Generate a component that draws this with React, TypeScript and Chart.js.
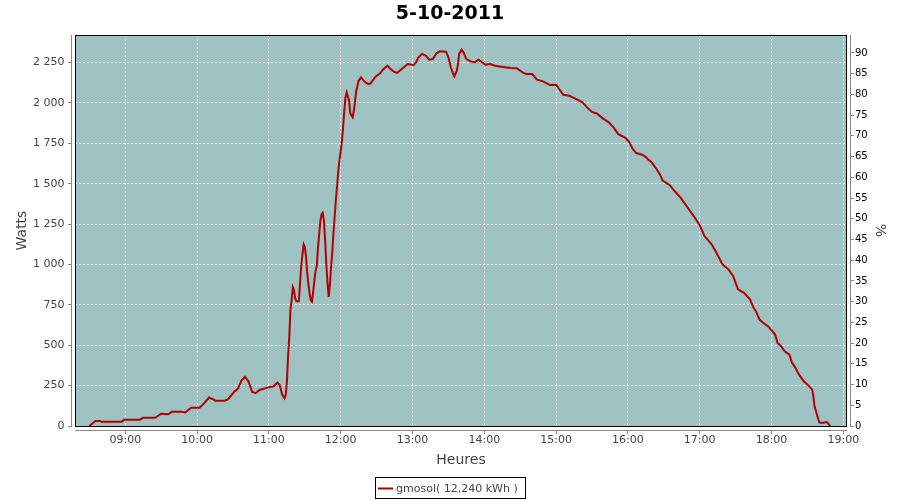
import React, { useEffect, useRef } from "react";
import { Chart, registerables } from "chart.js";

Chart.register(...registerables);

const chartTitle = "5-10-2011";
const seriesLabel = "gmosol( 12,240 kWh )";
const xTitle = "Heures";
const yTitle = "Watts";
const y2Title = "%";

const times = [
  "08:30", "08:35", "08:39", "08:40", "08:57", "08:59", "09:12", "09:15", "09:25", "09:30",
  "09:36", "09:39", "09:47", "09:50", "09:55", "10:02", "10:05", "10:10", "10:14", "10:15",
  "10:23", "10:26", "10:31", "10:34", "10:37", "10:40", "10:43", "10:46", "10:49", "10:52",
  "10:58", "11:04", "11:07", "11:09", "11:11", "11:13", "11:14", "11:15", "11:16", "11:17",
  "11:18", "11:19", "11:20", "11:21", "11:22", "11:23", "11:25", "11:26", "11:27", "11:28",
  "11:29", "11:30", "11:31", "11:32", "11:33", "11:34", "11:35", "11:36", "11:37", "11:38",
  "11:39", "11:40", "11:41", "11:42", "11:43", "11:44", "11:45", "11:46", "11:47", "11:48",
  "11:49", "11:50", "11:51", "11:52", "11:53", "11:54", "11:55", "11:56", "11:57", "11:58",
  "11:59", "12:00", "12:01", "12:02", "12:03", "12:04", "12:05", "12:07", "12:08", "12:10",
  "12:11", "12:13", "12:15", "12:17", "12:20", "12:23", "12:25", "12:29", "12:33", "12:35",
  "12:39", "12:41", "12:44", "12:47", "12:50", "12:55", "12:56", "13:01", "13:03", "13:05",
  "13:08", "13:11", "13:14", "13:17", "13:20", "13:23", "13:28", "13:30", "13:32", "13:34",
  "13:35", "13:37", "13:38", "13:39", "13:41", "13:43", "13:45", "13:49", "13:52", "13:55",
  "14:01", "14:05", "14:09", "14:14", "14:22", "14:27", "14:32", "14:35", "14:40", "14:44",
  "14:49", "14:55", "15:00", "15:03", "15:06", "15:11", "15:17", "15:22", "15:26", "15:30",
  "15:34", "15:39", "15:44", "15:48", "15:52", "15:58", "16:01", "16:04", "16:07", "16:12",
  "16:15", "16:17", "16:19", "16:21", "16:24", "16:27", "16:29", "16:35", "16:39", "16:44",
  "16:49", "16:55", "17:00", "17:04", "17:10", "17:14", "17:19", "17:24", "17:28", "17:32",
  "17:37", "17:42", "17:45", "17:47", "17:50", "17:53", "17:57", "18:00", "18:03", "18:05",
  "18:08", "18:11", "18:15", "18:17", "18:20", "18:23", "18:27", "18:31", "18:34", "18:35",
  "18:36", "18:38", "18:40", "18:42", "18:44", "18:46", "18:47", "18:49",
];

const watts = [
  0, 31, 31, 27, 27, 39, 39, 51, 51, 76,
  73, 89, 89, 84, 113, 113, 134, 176, 163, 157,
  157, 166, 212, 230, 280, 305, 275, 211, 203, 223,
  236, 246, 268, 255, 196, 172, 190, 267, 430, 546,
  721, 780, 860, 840, 790, 773, 773, 880, 990, 1060,
  1125, 1110, 1050, 950, 880, 820, 780, 770, 830, 900,
  960, 990, 1100, 1187, 1270, 1310, 1320, 1269, 1150, 1000,
  880, 800, 880, 990, 1080, 1200, 1300, 1404, 1490, 1580,
  1650, 1700, 1760, 1850, 1952, 2035, 2066, 2014, 1935, 1911,
  1952, 2076, 2138, 2159, 2131, 2117, 2122, 2163, 2184, 2204,
  2231, 2215, 2196, 2186, 2204, 2235, 2241, 2235, 2252, 2283,
  2304, 2293, 2268, 2272, 2308, 2320, 2318, 2283, 2221, 2180,
  2165, 2200, 2241, 2304, 2330, 2308, 2272, 2256, 2252, 2268,
  2237, 2241, 2231, 2225, 2216, 2215, 2190, 2179, 2179, 2144,
  2134, 2111, 2113, 2082, 2051, 2045, 2024, 2004, 1973, 1945,
  1935, 1905, 1880, 1849, 1807, 1784, 1760, 1715, 1690, 1680,
  1665, 1650, 1638, 1621, 1590, 1555, 1520, 1491, 1455, 1414,
  1362, 1300, 1243, 1176, 1125, 1073, 1001, 970, 928, 846,
  825, 784, 732, 711, 659, 639, 618, 593, 566, 515,
  494, 463, 442, 395, 360, 318, 277, 250, 225, 184,
  122, 70, 22, 19, 22, 25, 19, 0,
];

// axis ranges (hours of day, watts, percent)
const xMin = 8.2994;
const xMax = 19.0515;
const wattMax = 2421;
const pctMax = 94.34;
const wattStep = 250;
const pctStep = 5;
const hourStep = 1;

const toHours = (t: string) => {
  const [h, m] = t.split(":").map(Number);
  return h + m / 60;
};

const fmtWatts = (v: number) => {
  if (v >= 1000) {
    const th = Math.floor(v / 1000);
    const rest = String(Math.round(v % 1000)).padStart(3, "0");
    return `${th} ${rest}`;
  }
  return String(v);
};

const fmtHour = (v: number) => `${String(Math.round(v)).padStart(2, "0")}:00`;

const FONT = "'DejaVu Sans', sans-serif";
const PLOT_BG = "#9ec3c2";
const LINE = "#b40000";
const AXIS_GRAY = "#888888";

export default function App() {
  const ref = useRef<HTMLCanvasElement | null>(null);

  useEffect(() => {
    if (!ref.current) return;
    const align = (p: number) => Math.round(p - 0.5) + 0.5;

    const framePlugin = {
      id: "frame",
      beforeDraw(chart: any) {
        const { ctx, chartArea } = chart;
        ctx.save();
        ctx.fillStyle = "#ffffff";
        ctx.fillRect(0, 0, chart.width, chart.height);
        ctx.fillStyle = PLOT_BG;
        ctx.fillRect(chartArea.left, chartArea.top, chartArea.right - chartArea.left, chartArea.bottom - chartArea.top);
        ctx.restore();
      },
      afterDraw(chart: any) {
        const { ctx, chartArea, scales } = chart;
        const { left, top, right, bottom } = chartArea;
        ctx.save();
        // plot outline
        ctx.strokeStyle = "#000000";
        ctx.lineWidth = 1;
        ctx.strokeRect(left + 0.5, top + 0.5, right - left - 1, bottom - top);
        // offset axis lines
        ctx.strokeStyle = AXIS_GRAY;
        ctx.beginPath();
        ctx.moveTo(left - 3.5, top);
        ctx.lineTo(left - 3.5, bottom + 1);
        ctx.moveTo(left, bottom + 4.5);
        ctx.lineTo(right, bottom + 4.5);
        ctx.moveTo(right + 3.5, top);
        ctx.lineTo(right + 3.5, bottom + 1);
        scales.y.ticks.forEach((t: any) => {
          const y = align(scales.y.getPixelForValue(t.value));
          ctx.moveTo(left - 7, y);
          ctx.lineTo(left - 4, y);
        });
        scales.y1.ticks.forEach((t: any) => {
          const y = align(scales.y1.getPixelForValue(t.value));
          ctx.moveTo(right + 4, y);
          ctx.lineTo(right + 7, y);
        });
        scales.x.ticks.forEach((t: any) => {
          const x = align(scales.x.getPixelForValue(t.value));
          ctx.moveTo(x, bottom + 5);
          ctx.lineTo(x, bottom + 8);
        });
        ctx.stroke();

        // legend box
        ctx.font = `11px ${FONT}`;
        const tw = ctx.measureText(seriesLabel).width;
        const boxW = Math.round(tw + 28);
        const boxL = Math.round(450 - boxW / 2);
        const boxT = 477;
        const boxH = 21;
        ctx.strokeStyle = "#000000";
        ctx.lineWidth = 1;
        ctx.strokeRect(boxL + 0.5, boxT + 0.5, boxW, boxH);
        ctx.strokeStyle = LINE;
        ctx.lineWidth = 2;
        ctx.beginPath();
        ctx.moveTo(boxL + 3, 488.5);
        ctx.lineTo(boxL + 18, 488.5);
        ctx.stroke();
        ctx.fillStyle = "#444444";
        ctx.textBaseline = "alphabetic";
        ctx.textAlign = "left";
        ctx.fillText(seriesLabel, boxL + 21, 492);
        ctx.restore();
      },
    };

    const chart = new Chart(ref.current, {
      type: "line",
      data: {
        datasets: [
          {
            label: seriesLabel,
            data: times.map((t, i) => ({ x: toHours(t), y: watts[i] })),
            borderColor: LINE,
            backgroundColor: LINE,
            borderWidth: 2,
            pointRadius: 0,
            tension: 0,
            fill: false,
            yAxisID: "y",
            xAxisID: "x",
          },
        ],
      },
      options: {
        responsive: false,
        animation: false,
        events: [],
        layout: { padding: { top: 0, left: 0, right: 0, bottom: 30 } },
        plugins: {
          legend: { display: false },
          tooltip: { enabled: false },
          title: {
            display: true,
            text: chartTitle,
            color: "#000000",
            font: { family: FONT, size: 19, weight: "bold" },
            padding: { top: 3, bottom: 9.2 },
          },
        },
        scales: {
          x: {
            type: "linear",
            position: "bottom",
            min: xMin,
            max: xMax,
            afterFit: (s: any) => {
              s.height = 44;
            },
            grid: { color: "#ffffff", lineWidth: 1, drawTicks: false },
            border: { display: false, dash: [2, 2] },
            ticks: {
              stepSize: hourStep,
              includeBounds: false,
              autoSkip: false,
              maxRotation: 0,
              padding: 8,
              color: "#444444",
              font: { family: FONT, size: 11 },
              callback: (v: any) => fmtHour(Number(v)),
            },
            title: {
              display: true,
              text: xTitle,
              color: "#444444",
              font: { family: FONT, size: 14 },
              padding: { top: 0, bottom: 1.6 },
            },
          },
          y: {
            type: "linear",
            position: "left",
            min: 0,
            max: wattMax,
            afterFit: (s: any) => {
              s.width = 75;
            },
            grid: { color: "#ffffff", lineWidth: 1, drawTicks: false },
            border: { display: false, dash: [2, 2] },
            ticks: {
              stepSize: wattStep,
              includeBounds: false,
              autoSkip: false,
              padding: 10.5,
              color: "#444444",
              font: { family: FONT, size: 11 },
              callback: (v: any) => fmtWatts(Number(v)),
            },
            title: {
              display: true,
              text: yTitle,
              color: "#444444",
              font: { family: FONT, size: 14 },
              padding: { top: 13.6, bottom: 0 },
            },
          },
          y1: {
            type: "linear",
            position: "right",
            min: 0,
            max: pctMax,
            afterFit: (s: any) => {
              s.width = 53;
            },
            grid: { display: false, drawTicks: false },
            border: { display: false },
            ticks: {
              stepSize: pctStep,
              includeBounds: false,
              autoSkip: false,
              padding: 8,
              color: "#000000",
              font: { family: FONT, size: 10 },
            },
            title: {
              display: true,
              text: y2Title,
              color: "#444444",
              font: { family: FONT, size: 14 },
              padding: { top: 11.6, bottom: 0 },
            },
          },
        },
      } as any,
      plugins: [framePlugin],
    });

    return () => chart.destroy();
  }, []);

  return (
    <div style={{ position: "fixed", left: 0, top: 0, width: 900, height: 500, background: "#ffffff" }}>
      <canvas ref={ref} width={900} height={500} style={{ display: "block", width: 900, height: 500 }} />
    </div>
  );
}
